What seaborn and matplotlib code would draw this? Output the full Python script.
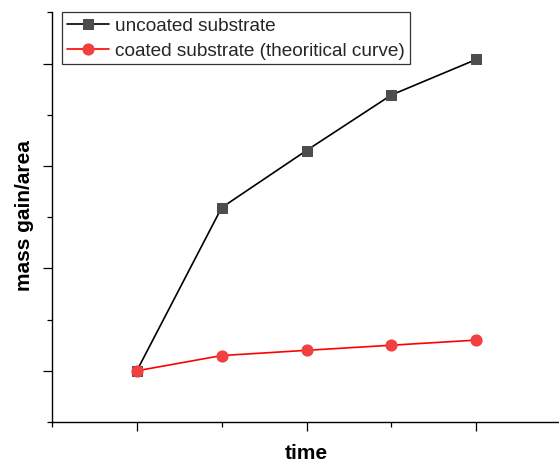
import matplotlib
matplotlib.use("Agg")
import matplotlib.pyplot as plt
import seaborn as sns
import pandas as pd
from matplotlib.ticker import NullFormatter

time_points = [1, 2, 3, 4, 5]
uncoated = [0.0, 1.594, 2.152, 2.694, 3.041]
coated = [0.0, 0.149, 0.200, 0.250, 0.300]
label_uncoated = "uncoated substrate"
label_coated = "coated substrate (theoritical curve)"

sns.set_theme(style="ticks")
plt.rcParams['font.family'] = ['Liberation Sans', 'DejaVu Sans']

df_u = pd.DataFrame({"time": time_points, "value": uncoated})
df_c = pd.DataFrame({"time": time_points, "value": coated})

fig = plt.figure(figsize=(5.59, 4.61), dpi=100)
ax = fig.add_axes([52/559, 39/461, 509/559, 409.5/461])

sns.lineplot(data=df_u, x="time", y="value", ax=ax, color="black", lw=1.2,
             marker="s", markersize=7, markerfacecolor="#4d4d4d",
             markeredgecolor="#4d4d4d", label=label_uncoated)
sns.lineplot(data=df_c, x="time", y="value", ax=ax, color="#ff0000", lw=1.2,
             marker="o", markersize=8, markerfacecolor="#f04040",
             markeredgecolor="#f04040", label=label_coated)

ax.set_xlim(0, 6)
ax.set_ylim(-0.5, 3.5)
ax.xaxis.set_major_locator(plt.FixedLocator([1, 3, 5]))
ax.xaxis.set_minor_locator(plt.FixedLocator([0, 2, 4]))
ax.yaxis.set_major_locator(plt.FixedLocator([0, 1, 2, 3]))
ax.yaxis.set_minor_locator(plt.FixedLocator([-0.5, 0.5, 1.5, 2.5, 3.5]))
ax.xaxis.set_major_formatter(NullFormatter())
ax.yaxis.set_major_formatter(NullFormatter())
ax.tick_params(which="major", length=6.5, width=0.9, color="black", direction="out")
ax.tick_params(which="minor", length=3.5, width=0.9, color="black", direction="out")

for s in ["top", "right"]:
    ax.spines[s].set_visible(False)
for s in ["left", "bottom"]:
    ax.spines[s].set_linewidth(1.0)
    ax.spines[s].set_color("black")

ax.set_xlabel("time", fontsize=15, fontweight="bold", color="black", va="center")
ax.set_ylabel("mass gain/area", fontsize=15, fontweight="bold", color="black", va="center")
ax.xaxis.set_label_coords(254/509, (422 - 453) / 409.5)
ax.yaxis.set_label_coords((24.5 - 52) / 509, (422 - 216) / 409.5)

leg = ax.legend(loc="upper left", bbox_to_anchor=(10/509, 1.0), fontsize=13.7,
                frameon=True, fancybox=False, borderaxespad=0, handlelength=2.2,
                handletextpad=0.35, borderpad=0.25, labelspacing=0.4)
leg.get_frame().set_edgecolor("black")
leg.get_frame().set_linewidth(0.9)

fig.savefig("out.png", dpi=100)
